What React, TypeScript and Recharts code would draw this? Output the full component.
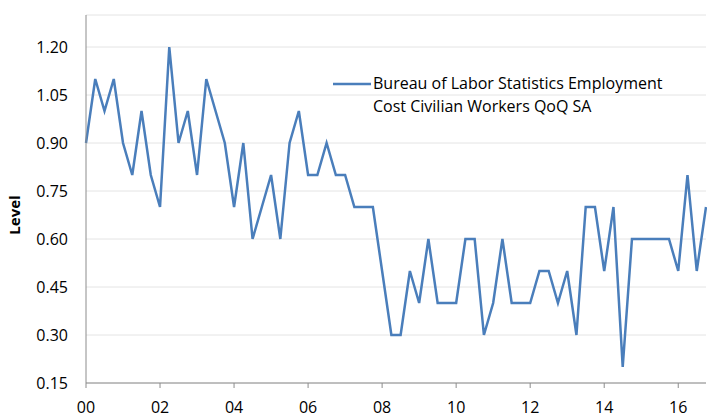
import { type ReactElement } from 'react';

import { CartesianGrid, Line, LineChart, XAxis, YAxis } from 'recharts';

// quarterly, 2000Q1 .. 2016Q4
const years = ['00', '01', '02', '03', '04', '05', '06', '07', '08', '09', '10', '11', '12', '13', '14', '15', '16'];
const quarters = ['Q1', 'Q2', 'Q3', 'Q4'];

const eciQoq = [
  0.9, 1.1, 1.0, 1.1, 0.9, 0.8, 1.0, 0.8,
  0.7, 1.2, 0.9, 1.0, 0.8, 1.1, 1.0, 0.9,
  0.7, 0.9, 0.6, 0.7, 0.8, 0.6, 0.9, 1.0,
  0.8, 0.8, 0.9, 0.8, 0.8, 0.7, 0.7, 0.7,
  0.5, 0.3, 0.3, 0.5, 0.4, 0.6, 0.4, 0.4,
  0.4, 0.6, 0.6, 0.3, 0.4, 0.6, 0.4, 0.4,
  0.4, 0.5, 0.5, 0.4, 0.5, 0.3, 0.7, 0.7,
  0.5, 0.7, 0.2, 0.6, 0.6, 0.6, 0.6, 0.6,
  0.5, 0.8, 0.5, 0.7,
];

const tickLabels = ['00', '02', '04', '06', '08', '10', '12', '14', '16'];
const yTicks = [0.15, 0.3, 0.45, 0.6, 0.75, 0.9, 1.05, 1.2];

const LEGEND_LINES = ['Bureau of Labor Statistics Employment', 'Cost Civilian Workers QoQ SA'];
const LINE_COLOR = '#4a7ebb';
const FONT = '"Open Sans", sans-serif';

const categories = years.flatMap((y) => quarters.map((q) => `${y}${q}`));

const data = eciQoq.map((value, i) => ({ i, quarter: categories[i], value }));

// tick at the Q1 of each labelled year
const xTicks = tickLabels.map((label) => categories.indexOf(`${label}Q1`));

function LegendBox(): ReactElement {
  return (
    <div
      style={{
        position: 'absolute',
        left: 333,
        top: 72,
        display: 'flex',
        alignItems: 'flex-start',
        fontFamily: FONT,
        fontSize: 16,
        color: '#000',
      }}
    >
      <svg width={40} height={20} style={{ marginTop: 2 }}>
        <line x1={0} y1={10} x2={38} y2={10} stroke={LINE_COLOR} strokeWidth={2.5} />
      </svg>
      <div style={{ lineHeight: '23px', width: 320 }}>
        {LEGEND_LINES[0]}
        <br />
        {LEGEND_LINES[1]}
      </div>
    </div>
  );
}

// rotated axis title, a little below the axis middle like the original
function LevelLabel({ viewBox }: { viewBox?: { x: number; y: number; height: number } }): ReactElement | null {
  if (!viewBox) return null;
  const x = viewBox.x + 20;
  const y = viewBox.y + viewBox.height / 2 + 16;
  return (
    <text
      x={x}
      y={y}
      transform={`rotate(-90 ${x} ${y})`}
      textAnchor="middle"
      fontFamily={FONT}
      fontSize={15}
      fontWeight={700}
      fill="#000"
    >
      Level
    </text>
  );
}

export default function App(): ReactElement {
  return (
    <div style={{ position: 'absolute', left: 0, top: 0, width: 707, height: 413, background: '#fff' }}>
      <LineChart width={707} height={413} data={data} margin={{ top: 15, right: 1, bottom: 0, left: 0 }}>
        <CartesianGrid vertical={false} stroke="#e4e4e4" />
        <XAxis
          dataKey="i"
          type="number"
          domain={[0, eciQoq.length - 1]}
          ticks={xTicks}
          tickFormatter={(v: number) => categories[v]?.slice(0, 2) ?? ''}
          height={30}
          stroke="#8c8c8c"
          tickSize={5}
          tickMargin={14}
          tick={{ fill: '#000', fontSize: 16, fontFamily: FONT }}
        />
        <YAxis
          domain={[0.15, 1.3]}
          ticks={yTicks}
          width={86}
          stroke="#8c8c8c"
          tickLine={false}
          tickMargin={12}
          tickFormatter={(v: number) => v.toFixed(2)}
          tick={{ fill: '#000', fontSize: 16, fontFamily: FONT }}
          label={{ content: (props: any) => <LevelLabel viewBox={props.viewBox} /> }}
        />
        <Line
          type="linear"
          dataKey="value"
          name={LEGEND_LINES.join(' ')}
          stroke={LINE_COLOR}
          strokeWidth={2.5}
          dot={false}
          isAnimationActive={false}
        />
      </LineChart>
      <LegendBox />
    </div>
  );
}
